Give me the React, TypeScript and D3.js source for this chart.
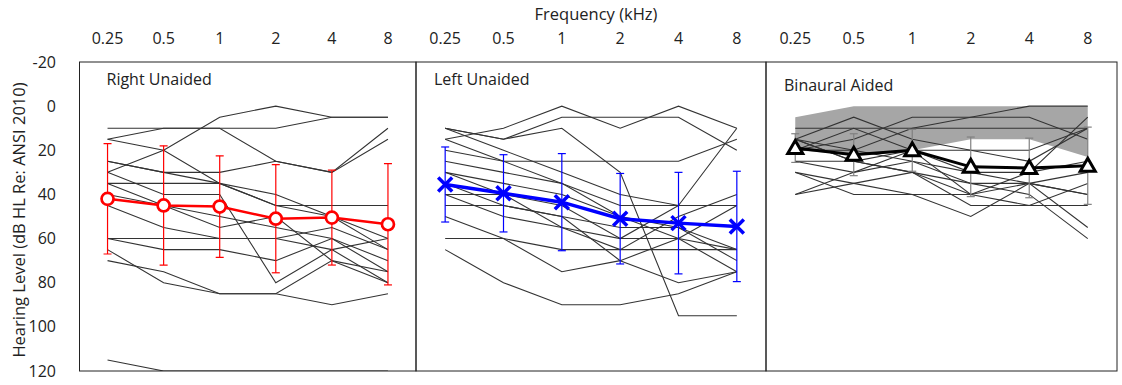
import { useRef, useEffect } from 'react';
import * as d3 from 'd3';

// frequencies (kHz) and hearing level ticks
const frequencies = ['0.25', '0.5', '1', '2', '4', '8'];
const levelTicks = [-20, 0, 20, 40, 60, 80, 100, 120];
const panelTitles = ['Right Unaided', 'Left Unaided', 'Binaural Aided'];

// individual listeners, right ear unaided (dB HL)
const rightLines = [
  [10, 10, 10, 10, 5, 5],
  [30, 20, 5, 0, 5, 5],
  [15, 10, 10, 25, 30, 10],
  [25, 30, 30, 25, 30, 15],
  [15, 20, 35, 45, 45, 45],
  [25, 30, 35, 45, 50, 60],
  [35, 35, 35, 40, 50, 65],
  [30, 40, 40, 80, 65, 60],
  [40, 45, 50, 55, 60, 75],
  [45, 55, 60, 60, 55, 65],
  [60, 60, 60, 60, 65, 80],
  [60, 65, 65, 70, 60, 70],
  [70, 75, 85, 85, 90, 85],
  [65, 80, 85, 85, 70, 75],
  [35, 45, 55, 50, 70, 80],
  [115, 120, 120, 120, 120, 120],
];
const rightMean = [42, 45, 45.5, 51, 50.5, 53.5];
const rightSd = [25, 27, 23, 24.5, 21.5, 27.5];

// left ear unaided
const leftLines = [
  [15, 10, 0, 10, 0, 10],
  [10, 15, 5, 5, 5, 20],
  [10, 15, 10, 30, 95, 95],
  [20, 25, 25, 25, 25, 15],
  [10, 20, 30, 40, 45, 10],
  [15, 25, 35, 45, 45, 45],
  [25, 30, 35, 50, 55, 70],
  [30, 35, 40, 50, 60, 65],
  [35, 45, 50, 55, 55, 65],
  [40, 40, 45, 60, 60, 75],
  [45, 45, 50, 70, 80, 75],
  [60, 60, 65, 65, 65, 65],
  [65, 80, 90, 90, 85, 75],
  [50, 60, 75, 70, 60, 45],
  [40, 50, 55, 65, 50, 40],
  [30, 40, 55, 60, 45, 45],
];
const leftMean = [35.5, 39.5, 43.5, 51, 53, 54.5];
const leftSd = [17, 17.5, 22, 20.5, 23, 25];

// binaural aided (sound field)
const aidedLines = [
  [10, 10, 10, 10, 10, 10],
  [15, 5, 15, 20, 25, 10],
  [20, 15, 5, 5, 5, 15],
  [15, 20, 10, 5, 0, 0],
  [20, 10, 20, 30, 30, 5],
  [20, 20, 25, 35, 35, 40],
  [25, 30, 20, 40, 35, 55],
  [25, 25, 30, 35, 40, 60],
  [30, 35, 40, 50, 35, 30],
  [40, 35, 30, 40, 45, 35],
  [15, 25, 20, 20, 20, 10],
  [15, 25, 30, 45, 45, 45],
  [30, 40, 40, 40, 30, 25],
  [40, 30, 25, 30, 35, 40],
];
const aidedMean = [19, 22, 20, 27.5, 28, 27];
const aidedSd = [6.5, 9.5, 9.5, 13.5, 13.5, 17.5];
// shaded target range
const bandTop = [5, 0, 0, 0, 0, 0];
const bandBottom = [20, 22, 20, 15, 15, 23];

const FONT = '"Open Sans", sans-serif';

const App = () => {
  const svgRef = useRef(null);

  useEffect(() => {
    document.body.style.margin = '0';
    const svg = d3.select(svgRef.current);
    svg.selectAll('*').remove();

    const width = 1122, height = 385;
    const top = 62, bottom = 371;
    const edges = [79.5, 416, 766, 1117];

    svg.attr('width', width).attr('height', height);

    const y = d3.scaleLinear().domain([-20, 120]).range([top, bottom]);

    const panels = [
      { lines: rightLines, mean: rightMean, sd: rightSd, color: '#ff0000', barColor: '#ff0000', marker: 'circle', lineWidth: 2.5 },
      { lines: leftLines, mean: leftMean, sd: leftSd, color: '#0000ff', barColor: '#0000ff', marker: 'cross', lineWidth: 3.5 },
      { lines: aidedLines, mean: aidedMean, sd: aidedSd, color: '#000000', barColor: '#808080', marker: 'triangle', lineWidth: 3 },
    ];

    // y tick labels
    svg.append('g')
      .selectAll('text')
      .data(levelTicks)
      .enter()
      .append('text')
      .attr('x', 56)
      .attr('y', d => y(d))
      .attr('dy', '0.35em')
      .attr('text-anchor', 'end')
      .style('font-family', FONT)
      .style('font-size', '16px')
      .attr('fill', '#222')
      .text(d => d);

    svg.append('text')
      .attr('transform', `translate(19,220) rotate(-90)`)
      .attr('text-anchor', 'middle')
      .attr('dy', '0.35em')
      .style('font-family', FONT)
      .style('font-size', '16.5px')
      .attr('fill', '#222')
      .text('Hearing Level (dB HL Re: ANSI 2010)');

    svg.append('text')
      .attr('x', 596)
      .attr('y', 20)
      .attr('text-anchor', 'middle')
      .style('font-family', FONT)
      .style('font-size', '16.5px')
      .attr('fill', '#222')
      .text('Frequency (kHz)');

    panels.forEach((p, pi) => {
      const x0 = edges[pi], x1 = edges[pi + 1];
      const x = d3.scalePoint().domain(frequencies).range([x0, x1]).padding(0.5);
      const g = svg.append('g');

      const clipId = `clip-${pi}`;
      svg.append('clipPath').attr('id', clipId)
        .append('rect').attr('x', x0).attr('y', top).attr('width', x1 - x0).attr('height', bottom - top);

      // top frequency labels
      g.selectAll('.freq')
        .data(frequencies)
        .enter()
        .append('text')
        .attr('x', d => x(d))
        .attr('y', 44)
        .attr('text-anchor', 'middle')
        .style('font-family', FONT)
        .style('font-size', '16px')
        .attr('fill', '#222')
        .text(d => d);

      const plot = g.append('g').attr('clip-path', `url(#${clipId})`);

      if (pi === 2) {
        const area = d3.area()
          .x((d, i) => x(frequencies[i]))
          .y0((d, i) => y(bandBottom[i]))
          .y1(d => y(d));
        plot.append('path')
          .datum(bandTop)
          .attr('d', area)
          .attr('fill', '#a6a6a6');
      }

      const line = d3.line()
        .x((d, i) => x(frequencies[i]))
        .y(d => y(d));

      plot.selectAll('.ind')
        .data(p.lines)
        .enter()
        .append('path')
        .attr('d', line)
        .attr('fill', 'none')
        .attr('stroke', '#333')
        .attr('stroke-width', 1.1);

      // error bars
      const bars = plot.append('g').attr('stroke', p.barColor).attr('stroke-width', 1.2);
      p.mean.forEach((m, i) => {
        const cx = x(frequencies[i]);
        const lo = y(m + p.sd[i]), hi = y(m - p.sd[i]);
        bars.append('line').attr('x1', cx).attr('x2', cx).attr('y1', hi).attr('y2', lo);
        bars.append('line').attr('x1', cx - 4).attr('x2', cx + 4).attr('y1', hi).attr('y2', hi);
        bars.append('line').attr('x1', cx - 4).attr('x2', cx + 4).attr('y1', lo).attr('y2', lo);
      });

      plot.append('path')
        .datum(p.mean)
        .attr('d', line)
        .attr('fill', 'none')
        .attr('stroke', p.color)
        .attr('stroke-width', p.lineWidth);

      const marks = plot.selectAll('.mk')
        .data(p.mean)
        .enter()
        .append('g')
        .attr('transform', (d, i) => `translate(${x(frequencies[i])},${y(d)})`);

      if (p.marker === 'circle') {
        marks.append('circle').attr('r', 6).attr('fill', '#fff').attr('stroke', p.color).attr('stroke-width', 2.7);
      } else if (p.marker === 'cross') {
        marks.append('path').attr('d', 'M-7,-7L7,7M-7,7L7,-7').attr('stroke', p.color).attr('stroke-width', 3.5);
      } else {
        marks.append('path').attr('d', 'M0,-7.5L7.5,5.5L-7.5,5.5Z').attr('fill', '#fff').attr('stroke', p.color).attr('stroke-width', 3).attr('stroke-linejoin', 'miter');
      }

      // frame
      g.append('rect')
        .attr('x', x0).attr('y', top)
        .attr('width', x1 - x0).attr('height', bottom - top)
        .attr('fill', 'none')
        .attr('stroke', '#222')
        .attr('stroke-width', 1);

      g.append('text')
        .attr('x', x0 + (pi === 0 ? 27 : 18))
        .attr('y', pi === 2 ? 91 : 85)
        .style('font-family', FONT)
        .style('font-size', '16px')
        .attr('fill', '#222')
        .text(panelTitles[pi]);
    });
  }, []);

  return <svg ref={svgRef}></svg>;
};

export default App;
